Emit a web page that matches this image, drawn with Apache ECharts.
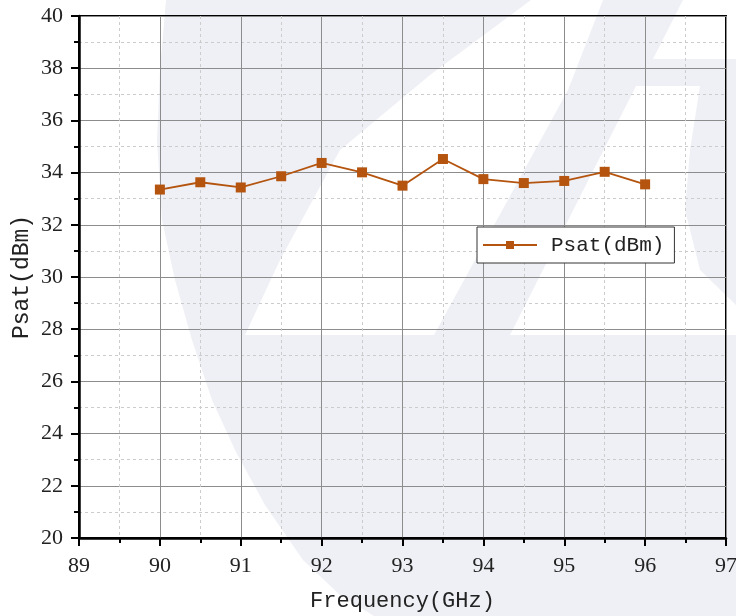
<!DOCTYPE html>
<html>
<head>
<meta charset="utf-8">
<script src="https://cdn.jsdelivr.net/npm/echarts@6/dist/echarts.min.js"></script>
<style>html,body{margin:0;padding:0;background:#fff;}#c{width:736px;height:616px;}</style>
</head>
<body>
<div id="c"></div>
<script>
// Data
const frequencies = [90, 90.5, 91, 91.5, 92, 92.5, 93, 93.5, 94, 94.5, 95, 95.5, 96];
const psat = [33.35, 33.63, 33.43, 33.86, 34.37, 34.01, 33.5, 34.52, 33.75, 33.6, 33.68, 34.03, 33.55];
const seriesName = 'Psat(dBm)';
const xName = 'Frequency(GHz)';
const yName = 'Psat(dBm)';

const chart = echarts.init(document.getElementById('c'), null, {renderer: 'canvas'});
const light = '#eff0f5';
const wm = [
  {type:'polygon', z:-10, silent:true, shape:{points:[[166,0],[160,70],[157,140],[162,220],[175,280],[192,340],[212,400],[236,452],[265,505],[303,560],[340,595],[374,616],[736,616],[736,0]]}, style:{fill:light}},
  {type:'polygon', z:-9, silent:true, shape:{points:[[531,0],[603,0],[568,90],[434,335],[245,335],[280,260],[340,150],[430,75]]}, style:{fill:'#fff'}},
  {type:'polygon', z:-9, silent:true, shape:{points:[[683,0],[736,0],[736,59],[653,59]]}, style:{fill:'#fff'}},
  {type:'polygon', z:-9, silent:true, shape:{points:[[636,86],[700,86],[690,150],[685,210],[700,270],[736,305],[736,335],[510,335]]}, style:{fill:'#fff'}}
];

chart.setOption({
  backgroundColor: '#fff',
  animation: false,
  graphic: wm,
  grid: {left: 79, right: 10, top: 16, bottom: 78, outerBoundsMode: 'none', containLabel: false, show: true, borderColor: '#000', borderWidth: 2, backgroundColor: 'transparent'},
  legend: {
    left: 477, top: 227,
    data: [seriesName],
    itemWidth: 54, itemHeight: 10,
    borderColor: '#333', borderWidth: 1, backgroundColor: '#fff',
    padding: [7, 10, 7, 5],
    textStyle: {fontFamily: 'Liberation Mono', fontSize: 21, color: '#222', lineHeight: 22, padding: [0, 0, 0, 9]}
  },
  xAxis: {
    type: 'value', min: 89, max: 97, interval: 1,
    name: xName, nameLocation: 'middle', nameGap: 52, nameMoveOverlap: false,
    nameTextStyle: {fontFamily: 'Liberation Mono', fontSize: 22, color: '#222'},
    axisLine: {lineStyle: {color: '#000', width: 2.5}},
    axisTick: {length: 8, lineStyle: {color: '#000', width: 2}},
    minorTick: {show: true, splitNumber: 2, length: 5, lineStyle: {color: '#000', width: 2}},
    splitLine: {show: true, lineStyle: {color: '#8c8c8c', width: 1}},
    minorSplitLine: {show: true, lineStyle: {color: '#cccccc', width: 1, type: [3, 3]}},
    axisLabel: {fontFamily: 'Liberation Serif', fontSize: 22, color: '#222', margin: 17}
  },
  yAxis: {
    type: 'value', min: 20, max: 40, interval: 2,
    name: yName, nameLocation: 'middle', nameGap: 46, nameMoveOverlap: false,
    nameTextStyle: {fontFamily: 'Liberation Mono', fontSize: 23, color: '#222'},
    axisLine: {lineStyle: {color: '#000', width: 2.5}},
    axisTick: {length: 8, lineStyle: {color: '#000', width: 2}},
    minorTick: {show: true, splitNumber: 2, length: 5, lineStyle: {color: '#000', width: 2}},
    splitLine: {show: true, lineStyle: {color: '#8c8c8c', width: 1}},
    minorSplitLine: {show: true, lineStyle: {color: '#cccccc', width: 1, type: [3, 3]}},
    axisLabel: {fontFamily: 'Liberation Serif', fontSize: 22, color: '#222', margin: 16}
  },
  series: [{
    name: seriesName,
    type: 'line',
    data: frequencies.map((f, i) => [f, psat[i]]),
    symbol: 'rect', symbolSize: 10,
    lineStyle: {color: '#b4540e', width: 1.8},
    itemStyle: {color: '#b4540e'}
  }]
});
</script>
</body>
</html>
